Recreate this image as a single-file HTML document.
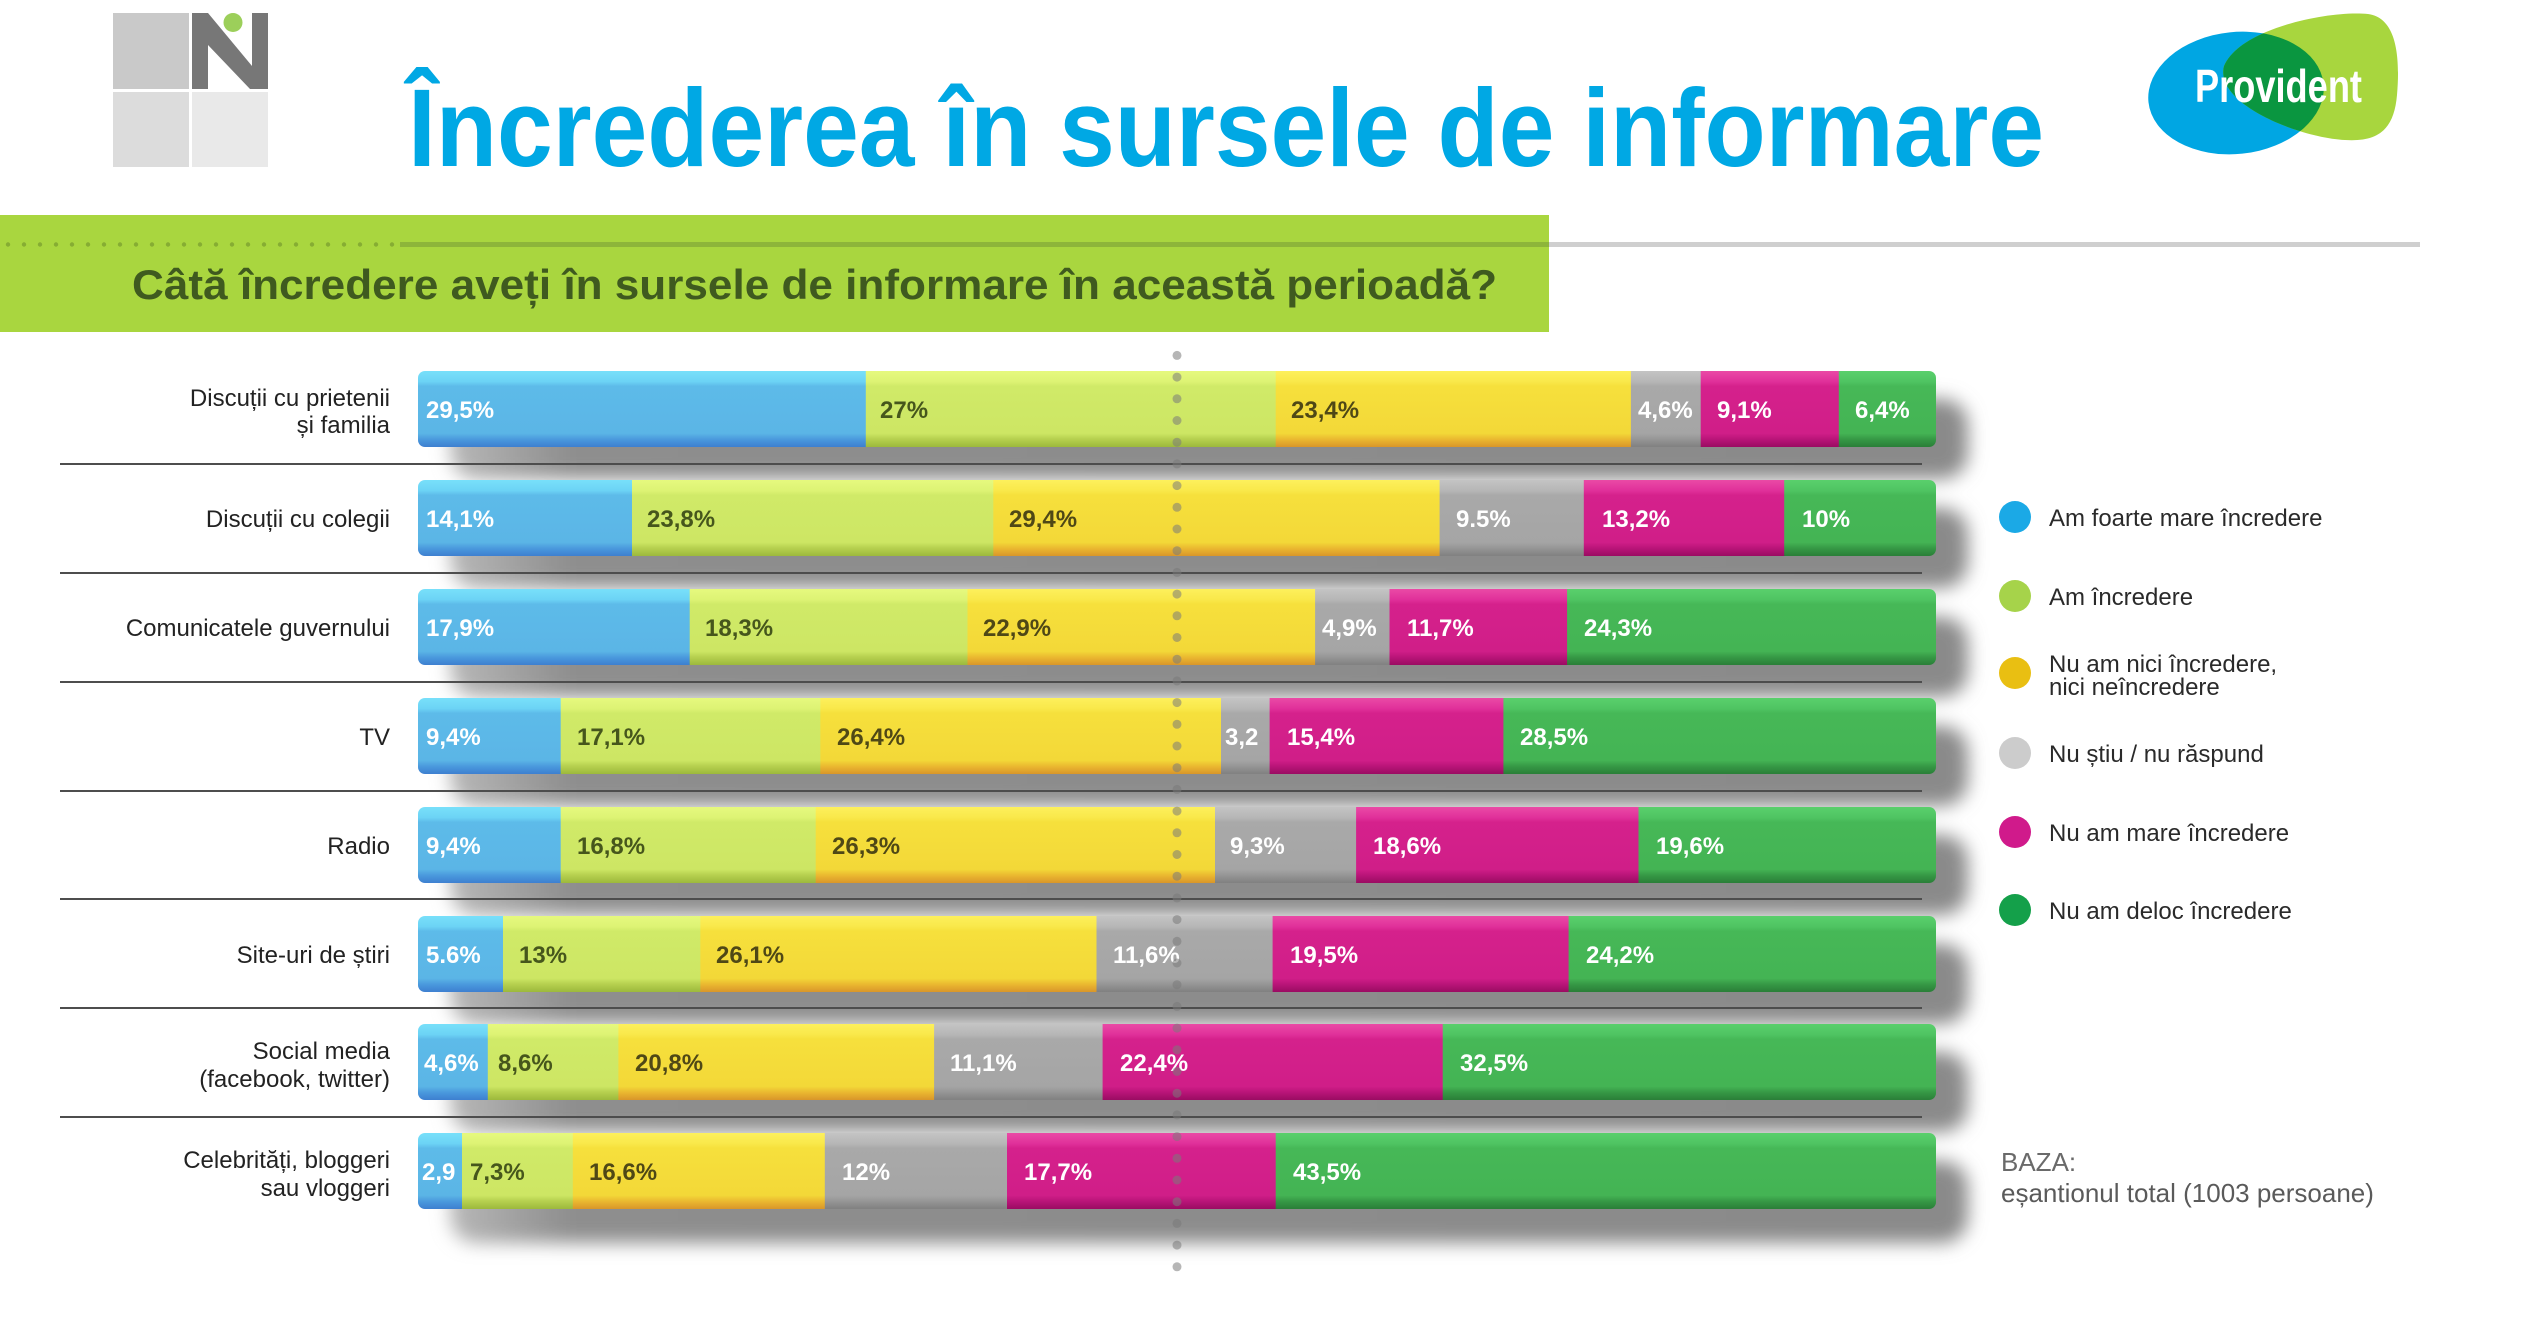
<!DOCTYPE html>
<html><head><meta charset="utf-8"><style>
html,body{margin:0;padding:0;background:#fff;}
svg{display:block;}
text{font-family:"Liberation Sans",Arial,sans-serif;}
</style></head><body>
<svg width="2534" height="1338" viewBox="0 0 2534 1338" xmlns="http://www.w3.org/2000/svg">
<defs>
<filter id="blur" x="-10%" y="-50%" width="120%" height="200%"><feGaussianBlur stdDeviation="9"/></filter>
<linearGradient id="shg" x1="0" y1="0" x2="1" y2="0">
<stop offset="0" stop-color="#b8b8b8"/><stop offset="0.08" stop-color="#8e8e8e"/><stop offset="1" stop-color="#8a8a8a"/></linearGradient>
<linearGradient id="gB" x1="0" y1="0" x2="0" y2="1"><stop offset="0" stop-color="#78e0fa"/><stop offset="0.14" stop-color="#6cd3f5"/><stop offset="0.2" stop-color="#5dbbe9"/><stop offset="0.82" stop-color="#5bb5e6"/><stop offset="0.9" stop-color="#4a99dd"/><stop offset="1" stop-color="#3d7fd0"/></linearGradient>
<linearGradient id="gL" x1="0" y1="0" x2="0" y2="1"><stop offset="0" stop-color="#e6f97e"/><stop offset="0.14" stop-color="#ddf374"/><stop offset="0.2" stop-color="#d0ea68"/><stop offset="0.82" stop-color="#cde664"/><stop offset="0.9" stop-color="#b5cf4e"/><stop offset="1" stop-color="#9cb83c"/></linearGradient>
<linearGradient id="gY" x1="0" y1="0" x2="0" y2="1"><stop offset="0" stop-color="#fdf05c"/><stop offset="0.14" stop-color="#f9e84a"/><stop offset="0.2" stop-color="#f6e03c"/><stop offset="0.82" stop-color="#f3d838"/><stop offset="0.9" stop-color="#eab830"/><stop offset="1" stop-color="#d9962a"/></linearGradient>
<linearGradient id="gG" x1="0" y1="0" x2="0" y2="1"><stop offset="0" stop-color="#c4c4c4"/><stop offset="0.14" stop-color="#b6b6b6"/><stop offset="0.2" stop-color="#a9a9a9"/><stop offset="0.82" stop-color="#a5a5a5"/><stop offset="0.9" stop-color="#959595"/><stop offset="1" stop-color="#808080"/></linearGradient>
<linearGradient id="gM" x1="0" y1="0" x2="0" y2="1"><stop offset="0" stop-color="#ea4aa6"/><stop offset="0.14" stop-color="#e0309a"/><stop offset="0.2" stop-color="#d5218c"/><stop offset="0.82" stop-color="#d01e88"/><stop offset="0.9" stop-color="#b81478"/><stop offset="1" stop-color="#9a0c62"/></linearGradient>
<linearGradient id="gD" x1="0" y1="0" x2="0" y2="1"><stop offset="0" stop-color="#5ad06c"/><stop offset="0.14" stop-color="#4fc462"/><stop offset="0.2" stop-color="#46b857"/><stop offset="0.82" stop-color="#44b454"/><stop offset="0.9" stop-color="#369845"/><stop offset="1" stop-color="#2a7e38"/></linearGradient>
<clipPath id="c1"><rect x="418" y="371" width="1518" height="76" rx="7"/></clipPath>
<clipPath id="c2"><rect x="418" y="480" width="1518" height="76" rx="7"/></clipPath>
<clipPath id="c3"><rect x="418" y="589" width="1518" height="76" rx="7"/></clipPath>
<clipPath id="c4"><rect x="418" y="698" width="1518" height="76" rx="7"/></clipPath>
<clipPath id="c5"><rect x="418" y="807" width="1518" height="76" rx="7"/></clipPath>
<clipPath id="c6"><rect x="418" y="916" width="1518" height="76" rx="7"/></clipPath>
<clipPath id="c7"><rect x="418" y="1024" width="1518" height="76" rx="7"/></clipPath>
<clipPath id="c8"><rect x="418" y="1133" width="1518" height="76" rx="7"/></clipPath>
<clipPath id="ellClip"><ellipse cx="2236" cy="93" rx="88" ry="61" transform="rotate(-6 2236 93)"/></clipPath>
</defs>

<!-- Logo N -->
<rect x="113" y="13" width="76" height="76" fill="#c9c9c9"/>
<rect x="113" y="92" width="76" height="75" fill="#dcdcdc"/>
<rect x="192" y="92" width="76" height="75" fill="#e9e9e9"/>
<polygon points="192,13 208,13 252,66 252,13 268,13 268,89 250,89 208,45 208,89 192,89" fill="#777777"/>
<circle cx="233" cy="22.5" r="9.5" fill="#9ccf5a"/>

<!-- Title -->
<text x="408" y="166" font-size="110" font-weight="bold" fill="#00a8e4" textLength="1636" lengthAdjust="spacingAndGlyphs">Încrederea în sursele de informare</text>

<!-- Provident logo -->
<ellipse cx="2236" cy="93" rx="88" ry="61" transform="rotate(-6 2236 93)" fill="#00a6e3"/>
<path d="M2224 66 C2240 28 2330 10 2368 14 C2398 18 2400 60 2397 95 C2394 130 2378 142 2345 140 C2300 138 2214 104 2224 66 Z" fill="#a8d63e"/>
<path d="M2224 66 C2240 28 2330 10 2368 14 C2398 18 2400 60 2397 95 C2394 130 2378 142 2345 140 C2300 138 2214 104 2224 66 Z" fill="#0a9640" clip-path="url(#ellClip)"/>
<text x="2195" y="102" font-size="46" font-weight="bold" fill="#ffffff" textLength="167" lengthAdjust="spacingAndGlyphs">Provident</text>

<!-- Green band -->
<rect x="0" y="215" width="1549" height="117" fill="#a9d63f"/>
<g fill="#86ad33">
<circle cx="8" cy="244.5" r="2.2"/><circle cx="24" cy="244.5" r="2.2"/><circle cx="40" cy="244.5" r="2.2"/><circle cx="56" cy="244.5" r="2.2"/><circle cx="72" cy="244.5" r="2.2"/><circle cx="88" cy="244.5" r="2.2"/><circle cx="104" cy="244.5" r="2.2"/><circle cx="120" cy="244.5" r="2.2"/><circle cx="136" cy="244.5" r="2.2"/><circle cx="152" cy="244.5" r="2.2"/><circle cx="168" cy="244.5" r="2.2"/><circle cx="184" cy="244.5" r="2.2"/><circle cx="200" cy="244.5" r="2.2"/><circle cx="216" cy="244.5" r="2.2"/><circle cx="232" cy="244.5" r="2.2"/><circle cx="248" cy="244.5" r="2.2"/><circle cx="264" cy="244.5" r="2.2"/><circle cx="280" cy="244.5" r="2.2"/><circle cx="296" cy="244.5" r="2.2"/><circle cx="312" cy="244.5" r="2.2"/><circle cx="328" cy="244.5" r="2.2"/><circle cx="344" cy="244.5" r="2.2"/><circle cx="360" cy="244.5" r="2.2"/><circle cx="376" cy="244.5" r="2.2"/><circle cx="392" cy="244.5" r="2.2"/>
</g>
<rect x="400" y="242" width="1149" height="5" fill="#8db53a"/>
<rect x="1549" y="242" width="871" height="5" fill="#cfcfcf"/>
<text x="132" y="299" font-size="42" font-weight="bold" fill="#3f5a1f" textLength="1365" lengthAdjust="spacingAndGlyphs">Câtă încredere aveți în sursele de informare în această perioadă?</text>

<!-- Shadows -->
<g filter="url(#blur)" fill="url(#shg)">
<rect x="450" y="399" width="1518" height="80" rx="26"/>
<rect x="450" y="508" width="1518" height="80" rx="26"/>
<rect x="450" y="617" width="1518" height="80" rx="26"/>
<rect x="450" y="726" width="1518" height="80" rx="26"/>
<rect x="450" y="835" width="1518" height="80" rx="26"/>
<rect x="450" y="944" width="1518" height="80" rx="26"/>
<rect x="450" y="1052" width="1518" height="80" rx="26"/>
<rect x="450" y="1161" width="1518" height="82" rx="26"/>
</g>

<!-- Separator lines -->
<g fill="#4d4d4d">
<rect x="60" y="463" width="1862" height="2"/>
<rect x="60" y="572" width="1862" height="2"/>
<rect x="60" y="681" width="1862" height="2"/>
<rect x="60" y="790" width="1862" height="2"/>
<rect x="60" y="898" width="1862" height="2"/>
<rect x="60" y="1007" width="1862" height="2"/>
<rect x="60" y="1116" width="1862" height="2"/>
</g>

<!-- Row labels -->
<g font-size="24" fill="#222" text-anchor="end">
<text x="390" y="406">Discuții cu prietenii</text>
<text x="390" y="433">și familia</text>
<text x="390" y="527">Discuții cu colegii</text>
<text x="390" y="636">Comunicatele guvernului</text>
<text x="390" y="745">TV</text>
<text x="390" y="854">Radio</text>
<text x="390" y="963">Site-uri de știri</text>
<text x="390" y="1059">Social media</text>
<text x="390" y="1087">(facebook, twitter)</text>
<text x="390" y="1168">Celebrități, bloggeri</text>
<text x="390" y="1196">sau vloggeri</text>
</g>

<!-- Bars -->
<g clip-path="url(#c1)">
<rect x="418" y="371" width="448.8" height="76" fill="url(#gB)"/>
<rect x="865.8" y="371" width="410.9" height="76" fill="url(#gL)"/>
<rect x="1275.7" y="371" width="356.2" height="76" fill="url(#gY)"/>
<rect x="1630.9" y="371" width="70.8" height="76" fill="url(#gG)"/>
<rect x="1700.7" y="371" width="139.1" height="76" fill="url(#gM)"/>
<rect x="1838.8" y="371" width="98" height="76" fill="url(#gD)"/>
</g>
<g clip-path="url(#c2)">
<rect x="418" y="480" width="215" height="76" fill="url(#gB)"/>
<rect x="632" y="480" width="362.3" height="76" fill="url(#gL)"/>
<rect x="993.3" y="480" width="447.3" height="76" fill="url(#gY)"/>
<rect x="1439.6" y="480" width="145.2" height="76" fill="url(#gG)"/>
<rect x="1583.8" y="480" width="201.4" height="76" fill="url(#gM)"/>
<rect x="1784.2" y="480" width="152" height="76" fill="url(#gD)"/>
</g>
<g clip-path="url(#c3)">
<rect x="418" y="589" width="272.7" height="76" fill="url(#gB)"/>
<rect x="689.7" y="589" width="278.8" height="76" fill="url(#gL)"/>
<rect x="967.5" y="589" width="348.6" height="76" fill="url(#gY)"/>
<rect x="1315.1" y="589" width="75.4" height="76" fill="url(#gG)"/>
<rect x="1389.5" y="589" width="178.6" height="76" fill="url(#gM)"/>
<rect x="1567.1" y="589" width="369" height="76" fill="url(#gD)"/>
</g>
<g clip-path="url(#c4)">
<rect x="418" y="698" width="143.7" height="76" fill="url(#gB)"/>
<rect x="560.7" y="698" width="260.6" height="76" fill="url(#gL)"/>
<rect x="820.3" y="698" width="401.7" height="76" fill="url(#gY)"/>
<rect x="1221" y="698" width="49.6" height="76" fill="url(#gG)"/>
<rect x="1269.6" y="698" width="234.8" height="76" fill="url(#gM)"/>
<rect x="1503.4" y="698" width="433" height="76" fill="url(#gD)"/>
</g>
<g clip-path="url(#c5)">
<rect x="418" y="807" width="143.7" height="76" fill="url(#gB)"/>
<rect x="560.7" y="807" width="256" height="76" fill="url(#gL)"/>
<rect x="815.7" y="807" width="400.3" height="76" fill="url(#gY)"/>
<rect x="1215" y="807" width="142.1" height="76" fill="url(#gG)"/>
<rect x="1356.1" y="807" width="283.4" height="76" fill="url(#gM)"/>
<rect x="1638.5" y="807" width="298" height="76" fill="url(#gD)"/>
</g>
<g clip-path="url(#c6)">
<rect x="418" y="916" width="86" height="76" fill="url(#gB)"/>
<rect x="503" y="916" width="198.3" height="76" fill="url(#gL)"/>
<rect x="700.3" y="916" width="397.2" height="76" fill="url(#gY)"/>
<rect x="1096.5" y="916" width="177.1" height="76" fill="url(#gG)"/>
<rect x="1272.6" y="916" width="297" height="76" fill="url(#gM)"/>
<rect x="1568.6" y="916" width="368" height="76" fill="url(#gD)"/>
</g>
<g clip-path="url(#c7)">
<rect x="418" y="1024" width="70.8" height="76" fill="url(#gB)"/>
<rect x="487.8" y="1024" width="131.6" height="76" fill="url(#gL)"/>
<rect x="618.4" y="1024" width="316.7" height="76" fill="url(#gY)"/>
<rect x="934.1" y="1024" width="169.5" height="76" fill="url(#gG)"/>
<rect x="1102.6" y="1024" width="341.1" height="76" fill="url(#gM)"/>
<rect x="1442.7" y="1024" width="494" height="76" fill="url(#gD)"/>
</g>
<g clip-path="url(#c8)">
<rect x="418" y="1133" width="45" height="76" fill="url(#gB)"/>
<rect x="462" y="1133" width="111.8" height="76" fill="url(#gL)"/>
<rect x="572.8" y="1133" width="253" height="76" fill="url(#gY)"/>
<rect x="824.8" y="1133" width="183.2" height="76" fill="url(#gG)"/>
<rect x="1007" y="1133" width="269.7" height="76" fill="url(#gM)"/>
<rect x="1275.7" y="1133" width="661" height="76" fill="url(#gD)"/>
</g>

<!-- Value labels -->
<g font-size="24" font-weight="bold">
<g fill="#ffffff">
<text x="426" y="418">29,5%</text><text x="1638" y="418">4,6%</text><text x="1717" y="418">9,1%</text><text x="1855" y="418">6,4%</text>
<text x="426" y="527">14,1%</text><text x="1456" y="527">9.5%</text><text x="1602" y="527">13,2%</text><text x="1802" y="527">10%</text>
<text x="426" y="636">17,9%</text><text x="1322" y="636">4,9%</text><text x="1407" y="636">11,7%</text><text x="1584" y="636">24,3%</text>
<text x="426" y="745">9,4%</text><text x="1225" y="745">3,2</text><text x="1287" y="745">15,4%</text><text x="1520" y="745">28,5%</text>
<text x="426" y="854">9,4%</text><text x="1230" y="854">9,3%</text><text x="1373" y="854">18,6%</text><text x="1656" y="854">19,6%</text>
<text x="426" y="963">5.6%</text><text x="1113" y="963">11,6%</text><text x="1290" y="963">19,5%</text><text x="1586" y="963">24,2%</text>
<text x="424" y="1071">4,6%</text><text x="950" y="1071">11,1%</text><text x="1120" y="1071">22,4%</text><text x="1460" y="1071">32,5%</text>
<text x="422" y="1180">2,9</text><text x="842" y="1180">12%</text><text x="1024" y="1180">17,7%</text><text x="1293" y="1180">43,5%</text>
</g>
<g fill="#46561c">
<text x="880" y="418">27%</text>
<text x="647" y="527">23,8%</text>
<text x="705" y="636">18,3%</text>
<text x="577" y="745">17,1%</text>
<text x="577" y="854">16,8%</text>
<text x="519" y="963">13%</text>
<text x="498" y="1071">8,6%</text>
<text x="470" y="1180">7,3%</text>
</g>
<g fill="#4f4816">
<text x="1291" y="418">23,4%</text>
<text x="1009" y="527">29,4%</text>
<text x="983" y="636">22,9%</text>
<text x="837" y="745">26,4%</text>
<text x="832" y="854">26,3%</text>
<text x="716" y="963">26,1%</text>
<text x="635" y="1071">20,8%</text>
<text x="589" y="1180">16,6%</text>
</g>
</g>

<!-- Dotted vertical line -->
<g fill="#7a7a7a" fill-opacity="0.55">
<circle cx="1177" cy="355.4" r="4.5"/><circle cx="1177" cy="377.1" r="4.5"/><circle cx="1177" cy="398.8" r="4.5"/><circle cx="1177" cy="420.5" r="4.5"/><circle cx="1177" cy="442.2" r="4.5"/><circle cx="1177" cy="463.9" r="4.5"/><circle cx="1177" cy="485.6" r="4.5"/><circle cx="1177" cy="507.3" r="4.5"/><circle cx="1177" cy="529" r="4.5"/><circle cx="1177" cy="550.7" r="4.5"/><circle cx="1177" cy="572.4" r="4.5"/><circle cx="1177" cy="594.1" r="4.5"/><circle cx="1177" cy="615.8" r="4.5"/><circle cx="1177" cy="637.5" r="4.5"/><circle cx="1177" cy="659.2" r="4.5"/><circle cx="1177" cy="680.9" r="4.5"/><circle cx="1177" cy="702.6" r="4.5"/><circle cx="1177" cy="724.3" r="4.5"/><circle cx="1177" cy="746" r="4.5"/><circle cx="1177" cy="767.7" r="4.5"/><circle cx="1177" cy="789.4" r="4.5"/><circle cx="1177" cy="811.1" r="4.5"/><circle cx="1177" cy="832.8" r="4.5"/><circle cx="1177" cy="854.5" r="4.5"/><circle cx="1177" cy="876.2" r="4.5"/><circle cx="1177" cy="897.9" r="4.5"/><circle cx="1177" cy="919.6" r="4.5"/><circle cx="1177" cy="941.3" r="4.5"/><circle cx="1177" cy="963" r="4.5"/><circle cx="1177" cy="984.7" r="4.5"/><circle cx="1177" cy="1006.4" r="4.5"/><circle cx="1177" cy="1028.1" r="4.5"/><circle cx="1177" cy="1049.8" r="4.5"/><circle cx="1177" cy="1071.5" r="4.5"/><circle cx="1177" cy="1093.2" r="4.5"/><circle cx="1177" cy="1114.9" r="4.5"/><circle cx="1177" cy="1136.6" r="4.5"/><circle cx="1177" cy="1158.3" r="4.5"/><circle cx="1177" cy="1180" r="4.5"/><circle cx="1177" cy="1201.7" r="4.5"/><circle cx="1177" cy="1223.4" r="4.5"/><circle cx="1177" cy="1245.1" r="4.5"/><circle cx="1177" cy="1266.8" r="4.5"/>
</g>

<!-- Legend -->
<circle cx="2015" cy="517" r="16" fill="#1ba9e6"/>
<circle cx="2015" cy="596" r="16" fill="#a6d34a"/>
<circle cx="2015" cy="673" r="16" fill="#e9bf12"/>
<circle cx="2015" cy="753" r="16" fill="#cccccc"/>
<circle cx="2015" cy="832" r="16" fill="#d01a8b"/>
<circle cx="2015" cy="910" r="16" fill="#14a04a"/>
<g font-size="24" fill="#2a2a2a">
<text x="2049" y="526">Am foarte mare încredere</text>
<text x="2049" y="605">Am încredere</text>
<text x="2049" y="672">Nu am nici încredere,</text>
<text x="2049" y="695">nici neîncredere</text>
<text x="2049" y="762">Nu știu / nu răspund</text>
<text x="2049" y="841">Nu am mare încredere</text>
<text x="2049" y="919">Nu am deloc încredere</text>
</g>
<text x="2001" y="1171" font-size="26" fill="#6a6a6a">BAZA:</text>
<text x="2001" y="1202" font-size="26" fill="#5a5a5a">eșantionul total (1003 persoane)</text>
</svg>
</body></html>
